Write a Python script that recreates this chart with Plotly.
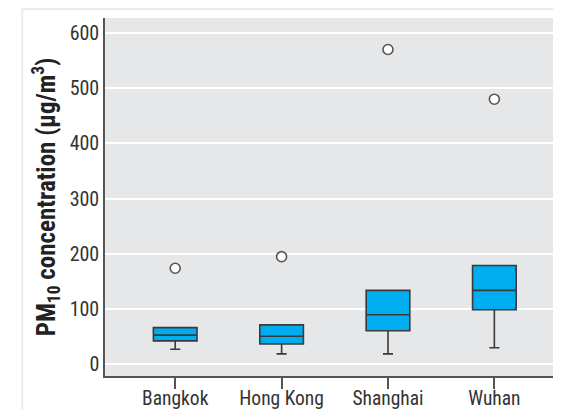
import plotly.graph_objects as go

cities = ["Bangkok", "Hong Kong", "Shanghai", "Wuhan"]
q1 = [42.5, 37, 61, 99]
median = [53, 51, 90, 134]
q3 = [66.5, 71.5, 134, 179]
lower = [27.5, 19, 19, 30]
upper = [66.5, 71.5, 134, 179]
outliers = [174, 195, 570, 480]

FONT = "Roboto Condensed, Liberation Sans Narrow, sans-serif"

fig = go.Figure()
fig.add_trace(go.Box(
    x=cities, q1=q1, median=median, q3=q3,
    lowerfence=lower, upperfence=upper,
    boxpoints=False, width=0.41, whiskerwidth=0.23,
    fillcolor="#00AEEF", line=dict(color="#3a3a3a", width=1.6),
    showlegend=False, hoverinfo="skip"))
fig.add_trace(go.Scatter(
    x=cities, y=outliers, mode="markers",
    marker=dict(symbol="circle", size=10, color="white",
                line=dict(color="#555555", width=1.6)),
    showlegend=False, hoverinfo="skip"))

fig.update_layout(
    width=553, height=401,
    margin=dict(l=97, r=6, t=10, b=33),
    paper_bgcolor="white", plot_bgcolor="#E6E7E8",
    font=dict(family=FONT, size=20, color="#333333"),
    shapes=[dict(type="rect", xref="paper", yref="paper",
                 x0=-0.184, x1=1.3, y0=-0.3, y1=1.025,
                 line=dict(color="#EBEBEB", width=2), layer="below")],
)
fig.update_xaxes(
    type="category", range=[-0.66, 3.57], automargin=False,
    showgrid=False, showline=True, linecolor="#555555", linewidth=1.5,
    ticks="outside", ticklen=11, tickcolor="#555555", tickwidth=1.5,
    ticklabelstandoff=-7,
    tickfont=dict(family=FONT, size=19.5, color="#333333"), zeroline=False)
fig.update_yaxes(
    range=[-21, 627], tickvals=[0, 100, 200, 300, 400, 500, 600],
    automargin=False,
    showgrid=True, gridcolor="white", gridwidth=1.5,
    showline=True, linecolor="#555555", linewidth=1.5, zeroline=False,
    ticks="", tickfont=dict(family=FONT, size=20, color="#333333"),
    title=dict(text="<b>PM<sub>10</sub> concentration (μg/m<sup>3</sup>)</b>",
               font=dict(family=FONT, size=25, color="#222222"), standoff=7))

fig.write_html("out.html")
